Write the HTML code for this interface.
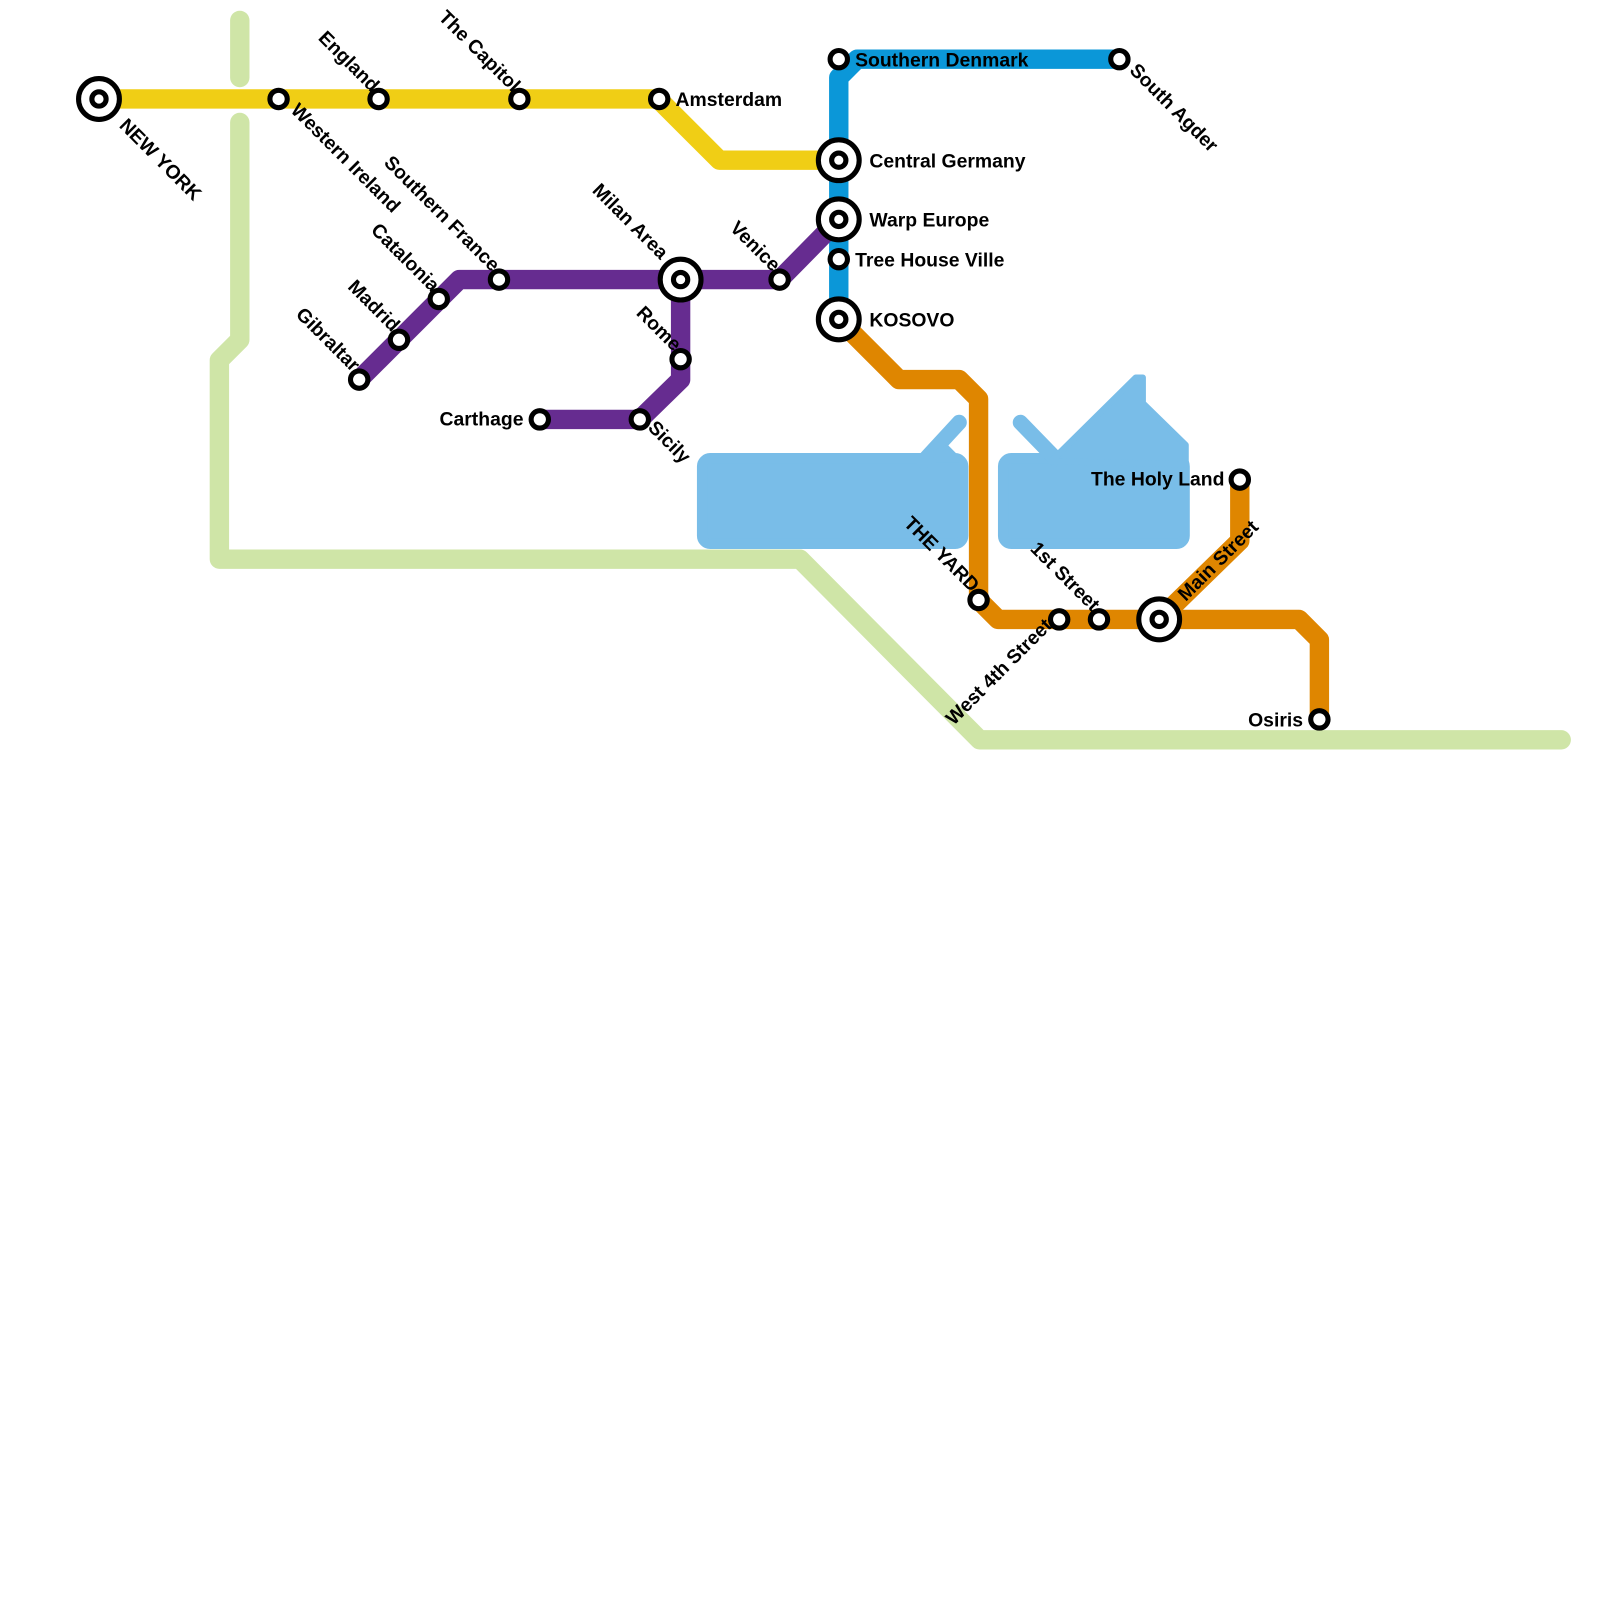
<!DOCTYPE html>
<html><head><meta charset="utf-8"><style>
html,body{margin:0;padding:0;background:#fff;}
svg{display:block;}
text{font-family:"Liberation Sans",Arial,sans-serif;font-weight:bold;font-size:19px;fill:#000;}
</style></head><body>
<svg width="1600" height="1600" viewBox="0 0 1568 1568" xmlns="http://www.w3.org/2000/svg">
<rect width="1568" height="1568" fill="#fff"/>
<g fill="#79bde8" stroke="#79bde8" stroke-linejoin="round" stroke-linecap="round">
<rect x="688" y="449" width="256" height="84" rx="8" stroke-width="10"/>
<line x1="905" y1="452" x2="940" y2="414" stroke-width="15"/>
<polygon points="912,445 928,438 945,455 915,455" stroke-width="4"/>
<rect x="983" y="449" width="178" height="84" rx="8" stroke-width="10"/>
<line x1="1000" y1="414" x2="1035" y2="450" stroke-width="15"/>
<polygon points="1030,452 1113,370 1120,370 1120,395 1162,436 1162,455" stroke-width="6"/>
</g>
<g fill="none" stroke-linejoin="round" stroke-linecap="round" stroke-width="19">
<g stroke="#cfe5a7">
<line x1="235" y1="20" x2="235" y2="76"/>
<polyline points="235,120 235,333 215,353 215,548 784,548 960,725 1530,725"/>
</g>
<polyline stroke="#f0ce15" stroke-linecap="butt" points="97,97 645,97 705,157 822,157"/>
<polyline stroke="#0b97d8" stroke-linecap="butt" points="1097,58 840,58 822,76 822,313"/>
<polyline stroke="#662c90" points="352,372 450,274 764,274 822,215"/>
<polyline stroke="#662c90" points="667,274 667,372 627,411 529,411"/>
<polyline stroke="#df8600" stroke-linecap="butt" points="822,313 881,372 940,372 959,391 959,588 978,607 1273,607 1293,627 1293,705"/>
<polyline stroke="#df8600" stroke-linecap="butt" points="1136,607 1215,530 1215,470"/>
</g>
<g fill="#fff" stroke="#000" stroke-width="5">
<circle cx="273" cy="97" r="8.5"/><circle cx="371" cy="97" r="8.5"/><circle cx="509" cy="97" r="8.5"/><circle cx="646" cy="97" r="8.5"/>
<circle cx="822" cy="58" r="8.5"/><circle cx="1097" cy="58" r="8.5"/><circle cx="822" cy="254" r="8.5"/>
<circle cx="489" cy="274" r="8.5"/><circle cx="430" cy="293" r="8.5"/><circle cx="391" cy="333" r="8.5"/><circle cx="352" cy="372" r="8.5"/>
<circle cx="764" cy="274" r="8.5"/><circle cx="667" cy="352" r="8.5"/><circle cx="627" cy="411" r="8.5"/><circle cx="529" cy="411" r="8.5"/>
<circle cx="959" cy="588" r="8.5"/><circle cx="1038" cy="607" r="8.5"/><circle cx="1077" cy="607" r="8.5"/><circle cx="1215" cy="470" r="8.5"/><circle cx="1293" cy="705" r="8.5"/>
</g>
<g fill="#fff" stroke="#000" stroke-width="5">
<circle cx="97" cy="97" r="20"/><circle cx="97" cy="97" r="7"/>
<circle cx="822" cy="157" r="20"/><circle cx="822" cy="157" r="7"/>
<circle cx="822" cy="215" r="20"/><circle cx="822" cy="215" r="7"/>
<circle cx="822" cy="313" r="20"/><circle cx="822" cy="313" r="7"/>
<circle cx="667" cy="274" r="20"/><circle cx="667" cy="274" r="7"/>
<circle cx="1136" cy="607" r="20"/><circle cx="1136" cy="607" r="7"/>
</g>
<text transform="translate(116,124) rotate(45)">NEW YORK</text>
<text transform="translate(284,109) rotate(45)">Western Ireland</text>
<text transform="translate(364,91) rotate(45)" text-anchor="end">England</text>
<text transform="translate(502,91) rotate(45)" text-anchor="end">The Capitol</text>
<text x="662" y="104">Amsterdam</text>
<text x="838" y="65">Southern Denmark</text>
<text transform="translate(1106,70) rotate(45)">South Agder</text>
<text x="852" y="164">Central Germany</text>
<text x="852" y="222">Warp Europe</text>
<text x="838" y="261">Tree House Ville</text>
<text x="852" y="320">KOSOVO</text>
<text transform="translate(482,267) rotate(45)" text-anchor="end">Southern France</text>
<text transform="translate(423,287) rotate(45)" text-anchor="end">Catalonia</text>
<text transform="translate(384,326) rotate(45)" text-anchor="end">Madrid</text>
<text transform="translate(345,365) rotate(45)" text-anchor="end">Gibraltar</text>
<text transform="translate(647,255) rotate(45)" text-anchor="end">Milan Area</text>
<text transform="translate(757,267) rotate(45)" text-anchor="end">Venice</text>
<text transform="translate(660,345) rotate(45)" text-anchor="end">Rome</text>
<text transform="translate(634,420) rotate(45)">Sicily</text>
<text x="513" y="417" text-anchor="end">Carthage</text>
<text transform="translate(952,581) rotate(45)" text-anchor="end">THE YARD</text>
<text transform="translate(1032,614) rotate(-45)" text-anchor="end">West 4th Street</text>
<text transform="translate(1070,600) rotate(45)" text-anchor="end">1st Street</text>
<text transform="translate(1162,590) rotate(-45)">Main Street</text>
<text x="1200" y="476" text-anchor="end">The Holy Land</text>
<text x="1277" y="712" text-anchor="end">Osiris</text>
</svg>
</body></html>
